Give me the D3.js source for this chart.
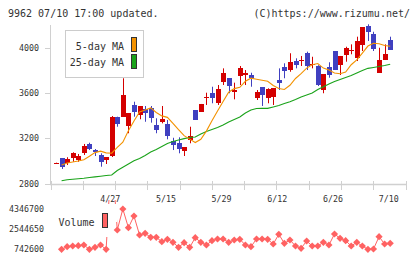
<!DOCTYPE html>
<html>
<head>
<meta charset="utf-8">
<script src="https://cdn.jsdelivr.net/npm/d3@7"></script>
<style>
	body { margin: 0; background: #fff; }
	svg { display: block; }
	text { font-family: "DejaVu Sans Mono", monospace; fill: #333; }
</style>
</head>
<body>
<svg width="420" height="259"></svg>
<script>
// daily OHLC, 4/13 .. 7/10
var opens = [2980, 3024, 2979, 3024, 3009, 3073, 3151, 3097, 3053, 3009,
	3044, 3393, 3393, 3304, 3497, 3408, 3459, 3467, 3319, 3343,
	3328, 3180, 3162, 3082, 3186, 3452, 3437, 3565, 3601, 3517,
	3695, 3734, 3615, 3754, 3763, 3763, 3565, 3654, 3556, 3565,
	3719, 3837, 3807, 3890, 3888, 3956, 3852, 3846, 3630, 3837,
	3976, 3852, 3934, 3982, 3911, 4023, 4198, 4127, 3783, 3896, 4074];
var highs = [2985, 3025, 3033, 3077, 3062, 3151, 3162, 3106, 3068, 3033,
	3399, 3393, 3734, 3423, 3526, 3488, 3488, 3488, 3379, 3488,
	3364, 3206, 3210, 3121, 3304, 3452, 3506, 3606, 3659, 3674,
	3822, 3734, 3695, 3843, 3807, 3783, 3630, 3654, 3645, 3645,
	3822, 3867, 3956, 3911, 3932, 3970, 3925, 3850, 3769, 3876,
	3976, 3932, 4014, 4035, 4103, 4186, 4213, 4147, 4005, 4035, 4103];
var lows = [2975, 2929, 2964, 2993, 2993, 3053, 3097, 3044, 2949, 2973,
	3035, 3304, 3393, 3246, 3393, 3370, 3348, 3340, 3246, 3334,
	3192, 3097, 3068, 3044, 3157, 3364, 3437, 3497, 3512, 3497,
	3674, 3601, 3547, 3674, 3674, 3659, 3541, 3488, 3512, 3497,
	3630, 3734, 3792, 3822, 3843, 3807, 3822, 3665, 3601, 3739,
	3807, 3763, 3881, 3947, 3887, 3976, 4065, 3976, 3783, 3896, 3985];
var closes = [2980, 2944, 3017, 3068, 3047, 3135, 3104, 3082, 2993, 3033,
	3393, 3334, 3585, 3423, 3437, 3488, 3423, 3379, 3275, 3372,
	3222, 3142, 3112, 3121, 3222, 3364, 3506, 3570, 3556, 3639,
	3778, 3665, 3630, 3822, 3778, 3734, 3615, 3585, 3636, 3645,
	3695, 3801, 3881, 3852, 3893, 3843, 3858, 3674, 3769, 3763,
	3807, 3932, 4000, 3985, 4065, 4186, 4147, 3994, 3896, 3949, 3985];

var ma5 = [null, 2964, 2982, 2991, 3000, 3011, 3042, 3074, 3087, 3072,
	3069, 3121, 3167, 3268, 3354, 3434, 3453, 3471, 3430, 3400,
	3387, 3334, 3278, 3225, 3194, 3164, 3192, 3265, 3357, 3444,
	3527, 3610, 3642, 3654, 3707, 3735, 3726, 3716, 3707, 3670,
	3643, 3635, 3672, 3732, 3775, 3824, 3854, 3865, 3824, 3807,
	3781, 3774, 3789, 3854, 3897, 3958, 4020, 4045, 4040, 4025, 4018];
var ma25 = [null, 2824, 2833, 2838, 2842, 2846, 2853, 2859, 2865, 2871,
	2875, 2915, 2944, 2973, 3002, 3022, 3049, 3080, 3102, 3128,
	3155, 3173, 3186, 3198, 3208, 3213, 3239, 3262, 3279, 3297,
	3319, 3346, 3368, 3390, 3426, 3452, 3466, 3467, 3467, 3479,
	3492, 3510, 3526, 3545, 3568, 3585, 3603, 3634, 3659, 3683,
	3705, 3723, 3741, 3758, 3781, 3803, 3822, 3830, 3838, 3847, 3858];

var volumes = [null, 715000, 950000, 1013000, 1040000, 1103000, 715000, 895000, 1103000, 715000,
	9500000, 2455000, 4346700, 2662000, 3716000, 2004000, 2157000, 1797000, 1797000, 1400000,
	1617000, 1346000, 895000, 1310000, 895000, 1760000, 1346000, 1103000, 1490000, 1643000,
	1643000, 1346000, 1553000, 1617000, 1103000, 950000, 1643000, 1643000, 1617000, 1193000,
	2067000, 1256000, 1553000, 1013000, 806000, 1463000, 1013000, 1013000, 1346000, 1103000,
	2094000, 1707000, 1490000, 1013000, 1346000, 1013000, 715000, 742600, 1851000, 1193000, 1256000];

var dateLabels = [[10, "4/27"], [20, "5/15"], [30, "5/29"], [40, "6/12"], [50, "6/26"], [60, "7/10"]];
var priceTicks = [2800, 3200, 3600, 4000];
var volumeTicks = [742600, 2544650, 4346700];

var svg = d3.select("svg");
svg.append("rect").attr("width", 420).attr("height", 259).attr("fill", "#fff");

var x = d3.scaleLinear().domain([0, 60]).range([56, 390.2]);
var y = d3.scaleLinear().domain([2800, 4000]).range([183.5, 48.3]);
var yv = d3.scaleLinear().domain([742600, 4346700]).range([249, 209]);

// header
svg.append("text").attr("x", 8).attr("y", 16.5).style("font-size", "10px")
	.text("9962 07/10 17:00 updated.");
svg.append("text").attr("x", 410).attr("y", 16.5).attr("text-anchor", "end").style("font-size", "10px")
	.text("(C)https://www.rizumu.net/");

// axes
var axisColor = "#d0d0d0";
svg.append("line").attr("x1", 50.5).attr("x2", 50.5).attr("y1", 25).attr("y2", 184)
	.attr("stroke", axisColor);
svg.append("line").attr("x1", 50).attr("x2", 406).attr("y1", 184.5).attr("y2", 184.5)
	.attr("stroke", axisColor).attr("stroke-width", 1.5);

var tickX = d3.scaleLinear().domain([0, 11]).range([50.5, 405.5]);
svg.selectAll(".xtick")
	.data(d3.range(12))
	.enter()
	.append("line")
	.attr("class", "xtick")
	.attr("x1", function (d) { return Math.round(tickX(d)) + 0.5; })
	.attr("x2", function (d) { return Math.round(tickX(d)) + 0.5; })
	.attr("y1", 181).attr("y2", 190)
	.attr("stroke", axisColor);

svg.selectAll(".ytick")
	.data(priceTicks)
	.enter()
	.append("line")
	.attr("class", "ytick")
	.attr("x1", 45).attr("x2", 50)
	.attr("y1", function (d) { return Math.round(y(d)) + 0.5; })
	.attr("y2", function (d) { return Math.round(y(d)) + 0.5; })
	.attr("stroke", axisColor);

svg.selectAll(".ylabel")
	.data(priceTicks)
	.enter()
	.append("text")
	.attr("class", "ylabel")
	.attr("x", 39)
	.attr("y", function (d) { return y(d) + 3; })
	.attr("text-anchor", "end")
	.style("font-size", "8.3px")
	.text(function (d) { return d; });

svg.selectAll(".xlabel")
	.data(dateLabels)
	.enter()
	.append("text")
	.attr("class", "xlabel")
	.attr("x", function (d) { return x(d[0]) - 1.5; })
	.attr("y", 201.5)
	.attr("text-anchor", "middle")
	.style("font-size", "8.3px")
	.text(function (d) { return d[1]; });

// candles
var red = "#d40000", blue = "#4040c0";
var candles = svg.selectAll(".candle")
	.data(closes)
	.enter()
	.append("g")
	.attr("class", "candle")
	.attr("fill", function (d, i) { return d >= opens[i] ? red : blue; })
	.attr("stroke", function (d, i) { return d >= opens[i] ? red : blue; });

candles.append("line")
	.attr("x1", function (d, i) { return Math.round(x(i)) + 0.5; })
	.attr("x2", function (d, i) { return Math.round(x(i)) + 0.5; })
	.attr("y1", function (d, i) { return y(highs[i]); })
	.attr("y2", function (d, i) { return y(lows[i]); });

candles.append("rect")
	.attr("stroke", "none")
	.attr("x", function (d, i) { return Math.round(x(i)) - 2; })
	.attr("width", 5)
	.attr("y", function (d, i) { return Math.round(y(Math.max(d, opens[i]))); })
	.attr("height", function (d, i) { return Math.max(1, Math.round(Math.abs(y(d) - y(opens[i])))); });

// moving averages
var maLine = d3.line()
	.defined(function (d) { return d != null; })
	.x(function (d, i) { return x(i); })
	.y(function (d) { return y(d); });

svg.append("path").datum(ma25).attr("d", maLine)
	.attr("fill", "none").attr("stroke", "#1aa31a").attr("stroke-width", 1.1);
svg.append("path").datum(ma5).attr("d", maLine)
	.attr("fill", "none").attr("stroke", "#f39200").attr("stroke-width", 1.1);

// MA legend
svg.append("rect").attr("x", 65.5).attr("y", 30.5).attr("width", 78).attr("height", 47)
	.attr("fill", "#fff").attr("stroke", "#cccccc");
svg.append("text").attr("x", 124).attr("y", 49.5).attr("text-anchor", "end").style("font-size", "10px")
	.text("5-day MA");
svg.append("text").attr("x", 124).attr("y", 65.5).attr("text-anchor", "end").style("font-size", "10px")
	.text("25-day MA");
svg.append("rect").attr("x", 131.5).attr("y", 37.5).attr("width", 5).attr("height", 14)
	.attr("fill", "#f39200").attr("stroke", "#333");
svg.append("rect").attr("x", 131.5).attr("y", 54.5).attr("width", 5).attr("height", 14)
	.attr("fill", "#1aa31a").attr("stroke", "#333");

// volume
var volColor = "#ff6262";
svg.append("clipPath").attr("id", "volclip")
	.append("rect").attr("x", 0).attr("y", 200).attr("width", 420).attr("height", 59);

var volLine = d3.line()
	.defined(function (d) { return d != null; })
	.x(function (d, i) { return x(i); })
	.y(function (d) { return yv(d); });

svg.append("path").datum(volumes).attr("d", volLine)
	.attr("clip-path", "url(#volclip)")
	.attr("fill", "none").attr("stroke", volColor).attr("stroke-width", 1);

// volume legend background (covers the off-scale spike)
svg.append("path")
	.attr("d", "M54,204H117V222H112V237H54Z")
	.attr("fill", "#fff");
svg.append("text").attr("x", 58.5).attr("y", 225.5).style("font-size", "10px").text("Volume");
svg.append("rect").attr("x", 102.5).attr("y", 213.5).attr("width", 5).attr("height", 14)
	.attr("fill", volColor).attr("stroke", "#333");

svg.selectAll(".vdot")
	.data(volumes.map(function (v, i) { return [i, v]; }).filter(function (d) { return d[1] != null && d[1] < 5000000; }))
	.enter()
	.append("path")
	.attr("class", "vdot")
	.attr("d", "M0,-3.6L3.6,0L0,3.6L-3.6,0Z")
	.attr("transform", function (d) { return "translate(" + x(d[0]) + "," + yv(d[1]) + ")"; })
	.attr("fill", volColor);

svg.selectAll(".vlabel")
	.data(volumeTicks)
	.enter()
	.append("text")
	.attr("class", "vlabel")
	.attr("x", 44)
	.attr("y", function (d) { return yv(d) + 3; })
	.attr("text-anchor", "end")
	.style("font-size", "8.3px")
	.text(function (d) { return d; });
</script>
</body>
</html>
